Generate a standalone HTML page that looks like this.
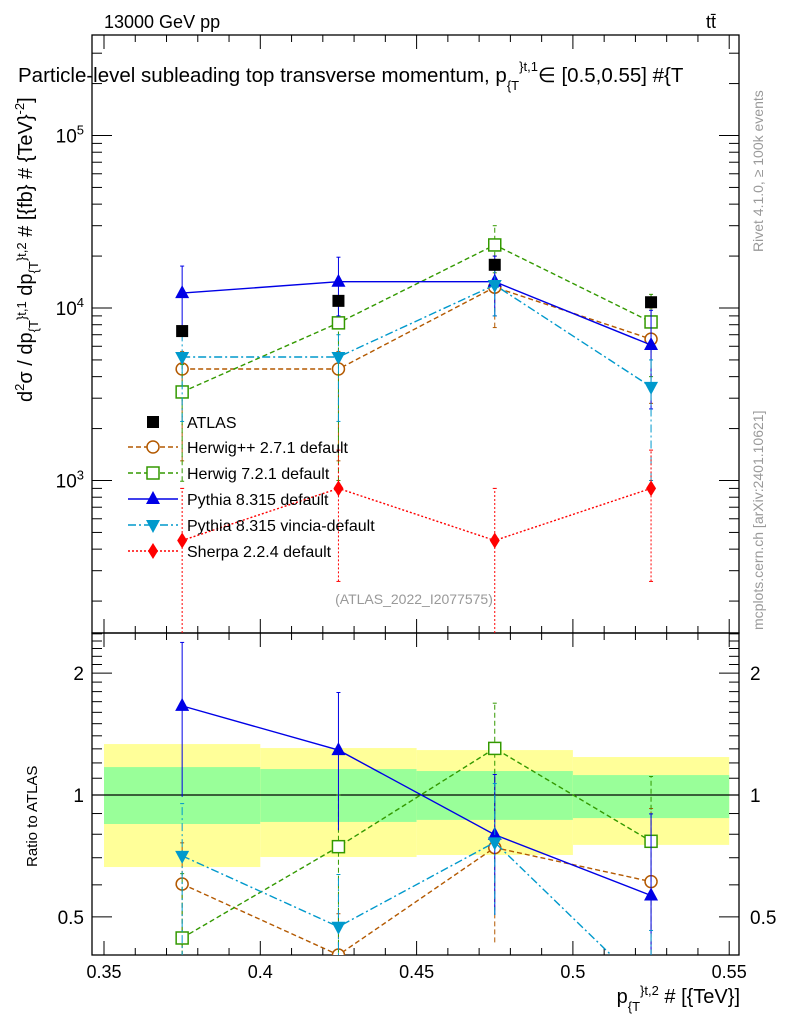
<!DOCTYPE html>
<html><head><meta charset="utf-8"><style>
html,body{margin:0;padding:0;background:#fff;width:786px;height:1024px;overflow:hidden}
svg{font-family:"Liberation Sans",sans-serif;display:block}
</style></head><body>
<svg id="c" width="786" height="1024"></svg>
<script>
const xs=[0.375,0.425,0.475,0.525];
const atlas=[7350,11000,17800,10800];
const atlasErr=[0.06,0.06,0.06,0.06];
const herwigpp=[4430,4430,13200,6600];
const herwigppLo=[1300,1300,7700,2800];
const herwigppHi=[5600,5600,20000,10000];
const herwig7=[3260,8200,23200,8300];
const herwig7Lo=[990,1000,16000,4000];
const herwig7Hi=[4700,11000,30000,12000];
const pythia=[12200,14200,14200,6100];
const pythiaLo=[7270,9000,9000,2600];
const pythiaHi=[17500,19700,20000,9700];
const vincia=[5200,5200,13600,3490];
const vinciaLo=[2200,2200,9000,1000];
const vinciaHi=[7000,7000,19000,5000];
const sherpa=[449,900,449,900];
const sherpaLo=[100,260,100,260];
const sherpaHi=[900,1500,900,1500];
const binEdges=[0.35,0.4,0.45,0.5,0.55];
const greenLo=[0.848,0.858,0.868,0.877];
const greenHi=[1.172,1.159,1.146,1.12];
const yellowLo=[0.664,0.703,0.711,0.753];
const yellowHi=[1.336,1.306,1.291,1.241];
const xTicks=[0.35,0.4,0.45,0.5,0.55];
const xTickLabels=["0.35","0.4","0.45","0.5","0.55"];

const NS="http://www.w3.org/2000/svg";
const svg=document.getElementById('c');
function el(t,a,p){const e=document.createElementNS(NS,t);for(const k in a)e.setAttribute(k,a[k]);(p||svg).appendChild(e);return e;}
const L=92,R=739,T=35,MB=633,RB=955;
const X=v=>104+(v-0.35)/0.05*156.3;
const Y=v=>308-172.5*(Math.log10(v)-4);
const YR=v=>795-405*Math.log10(v);

for(let i=0;i<4;i++){
 const b=el('rect',{x:X(binEdges[i]),y:YR(yellowHi[i]),width:X(binEdges[i+1])-X(binEdges[i]),height:YR(yellowLo[i])-YR(yellowHi[i]),fill:'#ffff99'});
 
 const g=el('rect',{x:X(binEdges[i]),y:YR(greenHi[i]),width:X(binEdges[i+1])-X(binEdges[i]),height:YR(greenLo[i])-YR(greenHi[i]),fill:'#99ff99'});
 
}
el('line',{x1:L,x2:R,y1:YR(1),y2:YR(1),stroke:'#000','stroke-width':1.3});

const f1=el('rect',{x:L,y:T,width:R-L,height:MB-T,fill:'none',stroke:'#000','stroke-width':1.3});

const f2=el('rect',{x:L,y:MB,width:R-L,height:RB-MB,fill:'none',stroke:'#000','stroke-width':1.3});


for(let v=0.35;v<=0.5501;v+=0.01){
 const maj=Math.abs((v*100)%5)<0.01||Math.abs((v*100)%5-5)<0.01;
 const len=maj?14:7;
 for(const [yb,yt] of [[MB,T],[RB,MB]]){
  el('line',{x1:X(v),x2:X(v),y1:yb,y2:yb-len,stroke:'#000'});
  el('line',{x1:X(v),x2:X(v),y1:yt,y2:yt+len,stroke:'#000'});
 }
}
xTicks.forEach((v,i)=>{const t=el('text',{x:X(v),y:978,'font-size':18,'text-anchor':'middle'});t.textContent=xTickLabels[i];
});

for(let d=2;d<=5;d++)for(let m=1;m<=9;m++){const v=m*Math.pow(10,d);const y=Y(v);if(y<T||y>MB)continue;
 const len=m==1?20:10;el('line',{x1:L,x2:L+len,y1:y,y2:y,stroke:'#000'});el('line',{x1:R,x2:R-len,y1:y,y2:y,stroke:'#000'});}
[5,4,3].forEach(e=>{const t=el('text',{x:84,y:Y(Math.pow(10,e))+7,'font-size':19,'text-anchor':'end'});
t.innerHTML='10<tspan dy="-8" font-size="13">'+e+'</tspan>';});

const rt=[0.5,0.6,0.7,0.8,0.9,1,1.1,1.2,1.3,1.4,1.5,1.6,1.7,1.8,1.9,2,2.1,2.2,2.3,2.4,2.5];
rt.forEach(v=>{const y=YR(v);if(y<MB||y>RB)return;const maj=(v==0.5||v==1||v==2);const len=maj?20:10;
 el('line',{x1:L,x2:L+len,y1:y,y2:y,stroke:'#000'});el('line',{x1:R,x2:R-len,y1:y,y2:y,stroke:'#000'});});
[[2,"2"],[1,"1"],[0.5,"0.5"]].forEach(([v,s])=>{
 const a=el('text',{x:84,y:YR(v)+7,'font-size':19,'text-anchor':'end'});a.textContent=s;
 const b=el('text',{x:750,y:YR(v)+7,'font-size':19});b.textContent=s;});

const series=[
 {name:'herwigpp',v:herwigpp,lo:herwigppLo,hi:herwigppHi,c:'#b35900',dash:'5,3',m:'circle',label:'Herwig++ 2.7.1 default'},
 {name:'herwig7',v:herwig7,lo:herwig7Lo,hi:herwig7Hi,c:'#339900',dash:'5,3',m:'square',label:'Herwig 7.2.1 default'},
 {name:'pythia',v:pythia,lo:pythiaLo,hi:pythiaHi,c:'#0000e6',dash:'',m:'tri',label:'Pythia 8.315 default'},
 {name:'vincia',v:vincia,lo:vinciaLo,hi:vinciaHi,c:'#0099cc',dash:'8,3,2,3',m:'tridown',label:'Pythia 8.315 vincia-default'},
 {name:'sherpa',v:sherpa,lo:sherpaLo,hi:sherpaHi,c:'#ff0000',dash:'2,2',m:'diamond',label:'Sherpa 2.2.4 default'}];
function marker(g,m,x,y,c){
 if(m=='circle')return el('circle',{cx:x,cy:y,r:6,fill:'#fff',stroke:c,'stroke-width':1.5},g);
 if(m=='square')return el('rect',{x:x-6,y:y-6,width:12,height:12,fill:'#fff',stroke:c,'stroke-width':1.5},g);
 if(m=='tri')return el('path',{d:`M${x},${y-8}L${x+7},${y+5}L${x-7},${y+5}Z`,fill:c},g);
 if(m=='tridown')return el('path',{d:`M${x},${y+8}L${x+7},${y-5}L${x-7},${y-5}Z`,fill:c},g);
 if(m=='diamond')return el('path',{d:`M${x},${y-8}L${x+5},${y}L${x},${y+8}L${x-5},${y}Z`,fill:c},g);
 if(m=='sq')return el('rect',{x:x-6,y:y-6,width:12,height:12,fill:c},g);
}
const clipM=el('clipPath',{id:'cm'});el('rect',{x:L,y:T,width:R-L,height:MB-T},clipM);
const clipR=el('clipPath',{id:'cr'});el('rect',{x:L,y:MB,width:R-L,height:RB-MB},clipR);
series.forEach(s=>{
 const g=el('g',{'clip-path':'url(#cm)'});
 
 el('polyline',{points:xs.map((x,i)=>X(x)+','+Y(s.v[i])).join(' '),fill:'none',stroke:s.c,'stroke-width':1.4,'stroke-dasharray':s.dash},g);
 xs.forEach((x,i)=>{el('line',{x1:X(x),x2:X(x),y1:Y(s.lo[i]),y2:Y(s.hi[i]),stroke:s.c,'stroke-dasharray':s.dash},g);
  el('line',{x1:X(x)-2,x2:X(x)+2,y1:Y(s.lo[i]),y2:Y(s.lo[i]),stroke:s.c},g);el('line',{x1:X(x)-2,x2:X(x)+2,y1:Y(s.hi[i]),y2:Y(s.hi[i]),stroke:s.c},g);
  const mk=marker(g,s.m,X(x),Y(s.v[i]),s.c);});
 const gr=el('g',{'clip-path':'url(#cr)'});
 
 const r=s.v.map((v,i)=>v/atlas[i]);
 el('polyline',{points:xs.map((x,i)=>X(x)+','+YR(r[i])).join(' '),fill:'none',stroke:s.c,'stroke-width':1.4,'stroke-dasharray':s.dash},gr);
 xs.forEach((x,i)=>{el('line',{x1:X(x),x2:X(x),y1:YR(s.lo[i]/atlas[i]),y2:YR(s.hi[i]/atlas[i]),stroke:s.c,'stroke-dasharray':s.dash},gr);
  el('line',{x1:X(x)-2,x2:X(x)+2,y1:YR(s.hi[i]/atlas[i]),y2:YR(s.hi[i]/atlas[i]),stroke:s.c},gr);
  const mk=marker(gr,s.m,X(x),YR(r[i]),s.c);});
});
const ga=el('g',{});
xs.forEach((x,i)=>{el('line',{x1:X(x),x2:X(x),y1:Y(atlas[i]*(1-atlasErr[i])),y2:Y(atlas[i]*(1+atlasErr[i])),stroke:'#000'},ga);
 const mk=marker(ga,'sq',X(x),Y(atlas[i]),'#000');});

const lg=el('g',{});
marker(lg,'sq',153,422,'#000');
let t=el('text',{x:187,y:428,'font-size':16},lg);t.textContent='ATLAS';
series.forEach((s,i)=>{const y=447+i*26;
 el('line',{x1:128,x2:178,y1:y,y2:y,stroke:s.c,'stroke-width':1.4,'stroke-dasharray':s.dash},lg);
 marker(lg,s.m,153,y,s.c);
 const tx=el('text',{x:187,y:y+6,'font-size':16},lg);tx.textContent=s.label;
 });

function txt(x,y,s,a,name){const e=el('text',Object.assign({x:x,y:y},a));e.innerHTML=s;return e;}
txt(414,604,'(ATLAS_2022_I2077575)',{'font-size':14,fill:'#999','text-anchor':'middle'},'analysis-id');
txt(104,28,'13000 GeV pp',{'font-size':18},'process-label');
txt(706,28,'tt̄',{'font-size':18},'final-state-label');
txt(18,82,'Particle-level subleading top transverse momentum, p<tspan dy="8" font-size="13">{T</tspan><tspan dy="-19" font-size="13">}t,1</tspan><tspan dy="11">∈ [0.5,0.55] #{T</tspan>',{'font-size':20.5},'plot-title');
txt(0,0,'d<tspan dy="-8" font-size="13">2</tspan><tspan dy="8">σ / dp</tspan><tspan dy="6" font-size="13">{T</tspan><tspan dy="-12" font-size="13">}t,1</tspan><tspan dy="6"> dp</tspan><tspan dy="6" font-size="13">{T</tspan><tspan dy="-12" font-size="13">}t,2</tspan><tspan dy="6"> # [{fb} # {TeV}</tspan><tspan dy="-8" font-size="13">-2</tspan><tspan dy="8">]</tspan>',{'font-size':20,transform:'translate(32,402) rotate(-90)'},'y-axis-title');
txt(0,0,'Ratio to ATLAS',{'font-size':15,transform:'translate(37,867) rotate(-90)'},'ratio-axis-title');
txt(740,1003,'p<tspan dy="8" font-size="13">{T</tspan><tspan dy="-16" font-size="13">}t,2</tspan><tspan dy="8"> # [{TeV}]</tspan>',{'font-size':20,'text-anchor':'end'},'x-axis-title');
txt(0,0,'Rivet 4.1.0, ≥ 100k events',{'font-size':14,fill:'#999',transform:'translate(763,252) rotate(-90)'},'rivet-label');
txt(0,0,'mcplots.cern.ch [arXiv:2401.10621]',{'font-size':14,fill:'#999',transform:'translate(763,630) rotate(-90)'},'mcplots-label');
</script>
</body></html>
